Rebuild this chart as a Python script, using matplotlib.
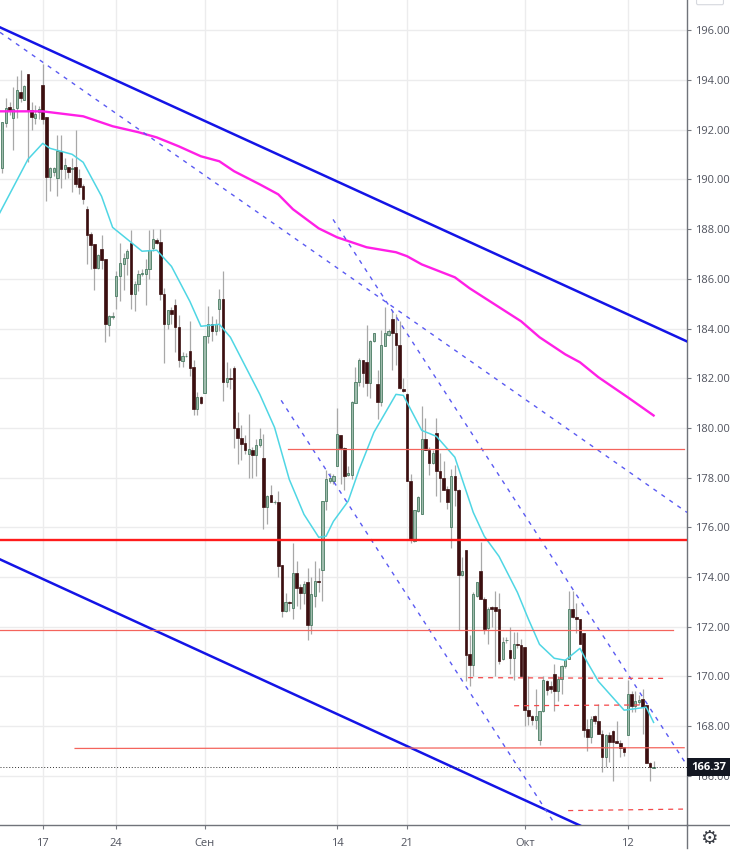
import numpy as np
import matplotlib
matplotlib.use("Agg")
import matplotlib.pyplot as plt
from matplotlib.patches import Rectangle, FancyBboxPatch
from matplotlib.lines import Line2D

W, H = 730, 851
first_bar = -11

# candles
opens = [190.47,192.28,192.9,192.48,192.86,193.5,193.2,194.25,192.8,192.48,192.7,
 193.8,192.5,190.1,190.3,190.05,191.1,190.4,190.5,190.42,190.5,190.05,189.75,
 188.8,187.8,187.4,186.45,187.2,186.8,184.15,184.45,
 185.3,186.1,186.6,186.85,187.45,185.4,185.8,186.2,186.2,186.4,187.25,187.55,187.5,185.4,184.2,184.75,184.95,184.05,182.7,182.88,183.1,182.45,180.75,181.25,
 181.4,183.7,184.2,183.9,184.8,185.2,181.85,182.0,182.4,180.0,179.6,179.4,178.95,179.1,178.9,179.3,
 178.8,176.8,177.3,177.0,177.0,174.5,172.65,173.0,172.75,174.15,173.6,173.35,173.8,172.05,173.25,173.85,174.3,177.05,177.85,177.85,
 178.45,179.7,179.2,178.1,178.1,181.0,181.85,182.75,182.65,181.8,183.5,181.75,181.05,183.3,183.75,184.4,183.8,183.35,181.55,
 181.35,177.85,175.45,176.65,176.55,179.55,179.1,178.6,179.8,178.25,178.0,177.55,176.0,178.05,177.5,174.1,175.1,170.9,170.45,173.25,174.25,173.1,171.95,172.8,172.8,172.7,170.7,171.45,171.05,170.75,171.3,171.25,
 171.2,168.65,168.4,168.25,167.45,168.6,169.8,169.6,170.1,169.4,169.9,170.4,170.7,172.7,172.4,172.3,171.75,167.9,167.55,168.4,168.2,167.7,166.75,167.65,167.8,167.4,167.3,167.15,
 167.65,169.3,168.8,168.95,169.1,168.85,166.5,166.33]
closes = [192.32,192.86,192.8,192.82,193.6,193.26,193.75,192.8,192.5,192.65,192.85,
 192.45,190.1,190.45,190.45,191.15,190.4,190.6,190.3,190.44,189.8,189.7,189.2,
 187.75,187.35,186.45,186.95,186.75,184.2,184.5,184.5,
 186.1,186.65,186.85,187.1,185.4,185.8,186.2,186.25,186.4,187.15,187.6,187.45,185.4,184.2,184.75,184.6,184.05,182.75,182.9,182.9,182.4,180.75,181.25,181.0,
 183.7,184.2,183.9,184.2,185.2,181.85,182.0,181.95,180.0,179.6,179.35,179.1,179.15,178.9,179.3,179.55,
 176.8,177.25,177.0,177.03,174.45,172.65,173.0,172.95,174.15,173.55,173.35,173.7,172.05,173.3,173.85,173.8,177.05,177.95,178.0,178.05,
 179.75,179.2,178.05,178.2,181.05,181.85,182.75,182.2,181.8,183.5,183.8,181.05,183.35,183.8,183.9,183.8,183.35,181.6,181.5,
 177.85,175.5,176.7,177.2,179.55,179.1,178.6,179.0,178.25,178.0,177.5,177.0,178.05,177.5,174.1,174.25,170.85,170.45,173.3,173.8,173.1,171.9,172.7,172.7,172.65,170.6,171.4,171.47,170.75,171.3,171.25,170.0,
 168.65,168.4,168.25,168.4,168.6,169.85,169.45,169.5,169.4,169.9,170.4,170.65,172.7,172.4,172.3,171.3,167.85,167.55,168.3,168.2,167.7,166.75,167.65,167.35,167.35,167.3,167.1,166.95,
 169.3,168.8,169.0,169.05,168.75,166.5,166.35,166.37]
highs = [192.32,193.29,193.1,193.7,194.17,194.4,193.8,194.25,193.1,193.0,192.95,
 194.65,192.5,190.5,190.5,191.8,191.8,190.85,190.5,190.85,192.0,190.4,189.8,
 188.95,187.9,187.4,187.0,187.75,186.8,184.55,184.65,
 186.3,187.45,187.05,187.2,187.95,185.9,186.35,186.4,186.8,187.95,188.0,187.65,188.0,185.65,184.75,184.85,185.2,184.55,183.05,183.0,184.3,182.75,181.45,181.3,
 183.7,184.9,184.5,184.4,185.6,186.3,182.65,182.4,182.5,180.65,180.1,179.7,180.55,179.25,179.55,180.0,
 179.75,177.3,177.7,177.1,177.45,174.5,173.35,173.05,175.35,174.65,173.7,173.85,174.35,174.0,174.65,174.35,177.05,178.3,178.2,178.15,
 180.8,179.7,179.25,178.45,181.1,182.45,182.8,182.75,184.15,183.55,183.8,182.35,183.95,184.85,184.0,184.75,184.6,184.3,182.0,
 181.4,178.15,176.7,177.25,180.9,180.4,179.25,179.1,180.4,179.0,178.65,177.65,178.35,178.5,177.55,174.8,175.1,171.65,173.4,173.8,175.4,173.2,172.8,172.85,173.45,173.35,171.6,171.6,172.0,171.8,171.8,171.5,
 171.2,170.0,168.45,169.5,168.6,170.0,169.85,169.8,170.5,170.0,170.45,170.7,173.45,173.45,172.95,172.3,171.75,168.3,168.4,168.45,168.9,167.85,167.7,167.75,167.85,168.2,167.45,167.15,
 169.85,169.4,169.4,169.25,169.5,168.85,166.55,166.6]
lows = [190.24,192.12,192.6,191.2,192.46,193.1,193.2,190.7,192.0,192.25,192.45,
 192.25,189.15,189.55,190.15,189.35,189.65,190.0,190.05,189.5,189.7,189.4,189.0,
 186.6,186.4,185.55,186.4,186.4,183.45,183.7,184.4,
 184.8,185.1,185.55,186.15,184.8,184.7,185.5,186.1,184.95,186.0,187.1,187.4,185.15,182.6,184.0,184.2,183.05,182.45,182.45,182.85,182.1,180.5,180.5,180.95,
 181.4,183.4,183.5,183.75,183.9,181.1,181.65,181.55,179.2,178.55,178.7,178.95,178.0,178.0,178.05,179.25,
 175.95,176.15,177.0,176.95,174.0,172.4,172.6,172.65,172.3,172.85,172.7,172.9,171.45,171.7,172.8,173.4,173.05,176.7,177.8,177.75,
 178.45,177.75,177.5,178.05,177.95,181.0,181.7,181.65,181.3,181.2,183.45,180.35,180.9,183.3,183.7,182.35,182.55,181.55,181.45,
 177.85,175.35,175.4,176.6,176.55,179.1,178.1,178.55,177.25,177.0,177.5,176.75,175.15,176.85,171.85,174.05,169.8,169.6,170.0,173.2,173.1,171.7,171.3,172.0,170.0,170.5,170.65,171.35,170.1,169.85,171.15,170.0,
 168.0,168.05,168.05,167.9,167.25,168.55,169.25,169.35,168.6,169.0,169.3,170.35,170.7,172.35,171.75,171.3,167.55,167.0,167.3,168.1,167.7,166.15,166.35,166.55,165.8,167.3,166.75,166.8,
 167.65,168.55,168.55,168.85,167.7,166.5,165.8,166.3]

# cyan moving average
ma_fast_bars = [-12,-4,0,2,8,11,16,19,23,27,31,35,40,43,48,51,59,63,67,71,75,77,79,83,86,90,96,98,103,107,112,114,117,120,124,129,132,135,139,142,146,148,151,158,164,166]
ma_fast_vals = [188.56,190.81,191.45,191.25,191.01,190.69,189.32,188.07,187.59,187.11,187.15,186.5,185.09,184.09,184.17,183.65,181.35,180.02,177.93,176.52,175.6,175.64,176.24,177.05,178.33,179.82,181.35,181.31,179.9,179.66,178.82,177.93,176.6,175.64,174.83,173.38,172.3,171.29,170.73,170.65,171.13,170.57,169.8,168.64,168.76,168.15]

# magenta moving average
ma_slow_bars = [-12,0,11,19,26,31,37,43,48,52,59,64,68,75,80,88,96,99,103,112,116,122,130,135,142,146,151,159,166]
ma_slow_vals = [192.74,192.74,192.54,192.14,191.9,191.69,191.33,190.93,190.73,190.33,189.8,189.4,188.8,188.03,187.67,187.27,187.07,186.91,186.58,186.06,185.62,185.05,184.29,183.65,182.96,182.64,182.04,181.23,180.5]

# drawn trend lines: (bar, price) ends
channel_top = ([-11.6, 175.08], [196.12, 183.48])
channel_bottom = ([-11.6, 146.0], [174.71, 164.0])
dash_a = ([-11.6, 175.08], [195.92, 176.6])
dash_b = ([78.9, 175.08], [188.39, 166.42])
dash_c = ([64.8, 139.2], [181.11, 164.05])

# drawn levels: (bar from, bar to, price from, price to)
red_thick = (-11.6, 175.08, 175.5, 175.5)
red_thin = [(66.6, 174.3, 179.15, 179.15), (-11.6, 171.3, 171.85, 171.85), (8.8, 174.3, 167.1, 167.13)]
red_dash = [(115.6, 168.6, 169.95, 169.92), (128.1, 162.2, 168.82, 168.85), (142.8, 174.0, 164.6, 164.66)]

last_price = 166.37
y_ticks = np.arange(166, 198, 2)
x_tick_bars = [0, 20, 44, 80, 99, 131, 159]
x_tick_labels = ["17", "24", "Сен", "14", "21", "Окт", "12"]

plt.rcParams["font.family"] = ["Open Sans", "DejaVu Sans"]

fig = plt.figure(figsize=(W / 100, H / 100), dpi=100)
ax = fig.add_axes([0, (H - 825) / H, 687 / W, 825 / H])
ax.set_xlim(-11.6, 175.08)
ax.set_ylim(164.02, 197.22)
ax.set_axisbelow(True)

ax.grid(True, color="#ececed", lw=1.0)

bars = np.arange(first_bar, first_bar + len(opens))
o = np.array(opens)
c = np.array(closes)
up = c >= o

ax.vlines(bars, lows, highs, color="#a8a8a8", lw=0.9, zorder=2)
ax.bar(bars[up], (c - o)[up], bottom=o[up], width=0.62, color="#9fbcad",
       edgecolor="#4a7c63", linewidth=0.6, zorder=3)
ax.bar(bars[~up], (o - c)[~up], bottom=c[~up], width=0.72, color="#3c0f10",
       edgecolor="#3c0f10", linewidth=0.5, zorder=3)

ax.plot(ma_fast_bars, ma_fast_vals, color="#4fd6e4", lw=1.1, zorder=4)
ax.plot(ma_slow_bars, ma_slow_vals, color="#ff1fe6", lw=1.7, zorder=4)

for line in (channel_top, channel_bottom):
    ax.plot(line[0], line[1], color="#1414e6", lw=1.8, zorder=5)
for line in (dash_a, dash_b, dash_c):
    ax.plot(line[0], line[1], color="#5a5af2", lw=1.0, ls=(0, (3, 4)), zorder=5)

ax.plot(red_thick[:2], red_thick[2:], color="#ff1c1c", lw=1.7, zorder=5)
for x0, x1, y0, y1 in red_thin:
    ax.plot([x0, x1], [y0, y1], color="#f4645c", lw=0.9, zorder=5)
for x0, x1, y0, y1 in red_dash:
    ax.plot([x0, x1], [y0, y1], color="#f4484a", lw=0.9, ls=(0, (4, 4)), zorder=5)

ax.axhline(last_price, color="#333333", lw=0.7, ls=(0, (1, 2)), zorder=5)

ax.yaxis.tick_right()
ax.set_yticks(y_ticks)
ax.set_yticklabels(["%.2f" % v for v in y_ticks])
ax.set_xticks(x_tick_bars)
ax.set_xticklabels(x_tick_labels)
ax.tick_params(axis="both", length=3, width=0.8, color="#777a80", labelcolor="#50535e",
               labelsize=8, pad=3)
ax.tick_params(axis="x", pad=6)
for name in ("top", "left"):
    ax.spines[name].set_visible(False)
for name in ("right", "bottom"):
    ax.spines[name].set_color("#70737a")
    ax.spines[name].set_linewidth(1.0)

# price scale bits outside the axes
fig.add_artist(Line2D([687 / W, 687 / W], [3 / H, 26 / H], color="#70737a", lw=1.0))
fig.add_artist(Line2D([687 / W, 1], [26 / H, 26 / H], color="#70737a", lw=1.0))
fig.add_artist(Rectangle((687 / W, (H - 776) / H), 43 / W, 18 / H, transform=fig.transFigure,
                         facecolor="#131722", edgecolor="none", zorder=6))
fig.text(709 / W, (H - 767) / H, "166.37", color="white", fontsize=8, fontweight="bold",
         va="center", ha="center", zorder=7)
fig.add_artist(FancyBboxPatch((698 / W, (H - 3) / H), 24 / W, 8 / H, transform=fig.transFigure,
                              boxstyle="round,pad=0.002", facecolor="white",
                              edgecolor="#d6d8de", lw=0.8))
fig.text(709 / W, (H - 838) / H, "\u2699", family="DejaVu Sans", fontsize=14, color="#3a3d45",
         ha="center", va="center")

fig.savefig("out.png", dpi=100)
